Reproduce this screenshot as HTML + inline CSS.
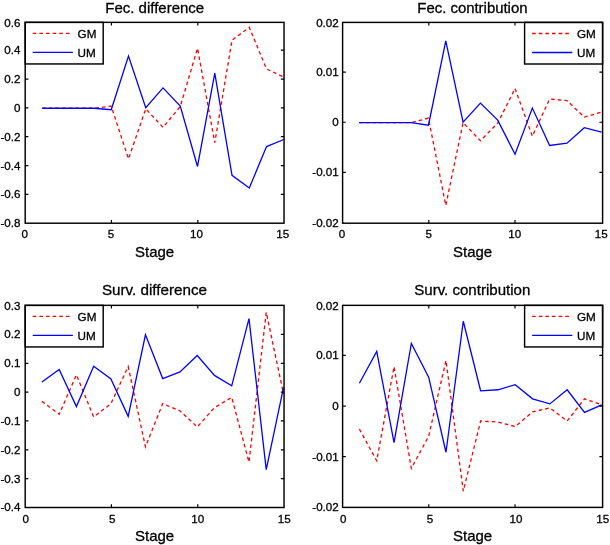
<!DOCTYPE html>
<html><head><meta charset="utf-8"><style>
html,body{margin:0;padding:0;background:#fff;}
svg{display:block;filter:blur(0.35px);}
text{font-family:"Liberation Sans", sans-serif;fill:#000;stroke:#000;stroke-width:0.3px;}
</style></head><body>
<svg width="610" height="545" viewBox="0 0 610 545">
<rect width="610" height="545" fill="#fff"/>
<polyline points="42.21,108.26 59.46,108.26 76.72,108.26 93.98,108.26 111.23,106.11 128.49,158.89 145.75,108.83 163.00,127.33 180.26,106.54 197.52,48.30 214.77,142.68 232.03,40.13 249.29,27.36 266.54,68.96 283.80,76.99" fill="none" stroke="#ff0000" stroke-width="1.3" stroke-dasharray="3.6 3.04"/>
<polyline points="42.21,108.26 59.46,108.26 76.72,108.26 93.98,108.26 111.23,109.69 128.49,56.05 145.75,107.68 163.00,87.89 180.26,105.96 197.52,166.49 214.77,73.12 232.03,175.38 249.29,188.00 266.54,146.55 283.80,139.52" fill="none" stroke="#0000ff" stroke-width="1.3"/>
<path d="M111.42 223.20V220.00M111.42 22.35V25.55M197.80 223.20V220.00M197.80 22.35V25.55M25.20 50.20H28.40M284.05 50.20H280.85M25.20 79.04H28.40M284.05 79.04H280.85M25.20 107.88H28.40M284.05 107.88H280.85M25.20 136.72H28.40M284.05 136.72H280.85M25.20 165.56H28.40M284.05 165.56H280.85M25.20 194.40H28.40M284.05 194.40H280.85" stroke="#000" stroke-width="1.2" fill="none"/>
<rect x="25.20" y="22.35" width="78.00" height="41.60" fill="#fff" stroke="#000" stroke-width="1.45"/>
<line x1="32.70" y1="33.45" x2="72.20" y2="33.45" stroke="#ff0000" stroke-width="1.3" stroke-dasharray="3.6 3.04"/>
<line x1="32.70" y1="52.45" x2="72.90" y2="52.45" stroke="#0000ff" stroke-width="1.3"/>
<text x="77.60" y="37.65" font-size="11.7">GM</text>
<text x="77.60" y="56.85" font-size="11.7">UM</text>
<rect x="25.20" y="22.35" width="258.85" height="200.85" fill="none" stroke="#000" stroke-width="1.45"/>
<text x="20.40" y="26.75" font-size="11.6" text-anchor="end">0.6</text>
<text x="20.40" y="54.20" font-size="11.6" text-anchor="end">0.4</text>
<text x="20.40" y="83.04" font-size="11.6" text-anchor="end">0.2</text>
<text x="20.40" y="111.88" font-size="11.6" text-anchor="end">0</text>
<text x="20.40" y="140.72" font-size="11.6" text-anchor="end">-0.2</text>
<text x="20.40" y="169.56" font-size="11.6" text-anchor="end">-0.4</text>
<text x="20.40" y="198.40" font-size="11.6" text-anchor="end">-0.6</text>
<text x="20.40" y="227.24" font-size="11.6" text-anchor="end">-0.8</text>
<text x="24.70" y="237.80" font-size="11.6" text-anchor="middle">0</text>
<text x="110.97" y="237.80" font-size="11.6" text-anchor="middle">5</text>
<text x="196.57" y="237.80" font-size="11.6" text-anchor="middle">10</text>
<text x="282.73" y="237.80" font-size="11.6" text-anchor="middle">15</text>
<text x="154.75" y="12.60" font-size="15.0" text-anchor="middle">Fec. difference</text>
<text x="154.62" y="257.00" font-size="15.0" text-anchor="middle">Stage</text>
<polyline points="359.21,122.65 376.53,122.65 393.84,122.65 411.15,122.65 428.47,118.13 445.78,205.44 463.09,122.65 480.41,140.71 497.72,123.15 515.03,88.53 532.35,136.20 549.66,99.07 566.97,100.57 584.29,117.13 601.60,112.11" fill="none" stroke="#ff0000" stroke-width="1.3" stroke-dasharray="3.6 3.04"/>
<polyline points="359.21,122.65 376.53,122.65 393.84,122.65 411.15,122.65 428.47,125.16 445.78,40.86 463.09,122.15 480.41,103.08 497.72,120.14 515.03,154.26 532.35,108.10 549.66,145.48 566.97,143.22 584.29,127.67 601.60,132.18" fill="none" stroke="#0000ff" stroke-width="1.3"/>
<path d="M428.80 223.20V220.00M428.80 22.40V25.60M515.00 223.20V220.00M515.00 22.40V25.60M342.60 72.10H345.80M602.60 72.10H599.40M342.60 122.24H345.80M602.60 122.24H599.40M342.60 172.38H345.80M602.60 172.38H599.40" stroke="#000" stroke-width="1.2" fill="none"/>
<rect x="524.60" y="22.40" width="78.00" height="41.60" fill="#fff" stroke="#000" stroke-width="1.45"/>
<line x1="532.10" y1="33.50" x2="571.60" y2="33.50" stroke="#ff0000" stroke-width="1.3" stroke-dasharray="3.6 3.04"/>
<line x1="532.10" y1="52.50" x2="572.30" y2="52.50" stroke="#0000ff" stroke-width="1.3"/>
<text x="577.00" y="37.70" font-size="11.7">GM</text>
<text x="577.00" y="56.90" font-size="11.7">UM</text>
<rect x="342.60" y="22.40" width="260.00" height="200.80" fill="none" stroke="#000" stroke-width="1.45"/>
<text x="338.75" y="26.80" font-size="11.6" text-anchor="end">0.02</text>
<text x="338.75" y="76.10" font-size="11.6" text-anchor="end">0.01</text>
<text x="338.75" y="126.24" font-size="11.6" text-anchor="end">0</text>
<text x="338.75" y="176.38" font-size="11.6" text-anchor="end">-0.01</text>
<text x="338.75" y="226.52" font-size="11.6" text-anchor="end">-0.02</text>
<text x="342.10" y="237.80" font-size="11.6" text-anchor="middle">0</text>
<text x="428.76" y="237.80" font-size="11.6" text-anchor="middle">5</text>
<text x="514.73" y="237.80" font-size="11.6" text-anchor="middle">10</text>
<text x="601.28" y="237.80" font-size="11.6" text-anchor="middle">15</text>
<text x="472.40" y="12.70" font-size="14.92" text-anchor="middle">Fec. contribution</text>
<text x="472.60" y="257.00" font-size="15.0" text-anchor="middle">Stage</text>
<polyline points="41.91,401.36 59.16,414.33 76.42,374.85 93.68,416.92 110.93,403.67 128.19,366.50 145.45,446.89 162.70,403.67 179.96,410.87 197.22,427.01 214.47,407.70 231.73,397.33 248.99,462.16 266.24,312.33 283.50,393.87" fill="none" stroke="#ff0000" stroke-width="1.3" stroke-dasharray="3.6 3.04"/>
<polyline points="41.91,382.06 59.16,369.38 76.42,406.55 93.68,366.21 110.93,378.89 128.19,416.35 145.45,334.80 162.70,378.60 179.96,371.97 197.22,355.55 214.47,375.43 231.73,385.80 248.99,318.67 266.24,469.65 283.50,387.53" fill="none" stroke="#0000ff" stroke-width="1.3"/>
<path d="M111.42 507.50V504.30M111.42 305.35V308.55M197.80 507.50V504.30M197.80 305.35V308.55M25.20 334.44H28.40M284.05 334.44H280.85M25.20 363.28H28.40M284.05 363.28H280.85M25.20 392.12H28.40M284.05 392.12H280.85M25.20 420.96H28.40M284.05 420.96H280.85M25.20 449.80H28.40M284.05 449.80H280.85M25.20 478.64H28.40M284.05 478.64H280.85" stroke="#000" stroke-width="1.2" fill="none"/>
<rect x="25.20" y="305.35" width="78.00" height="41.60" fill="#fff" stroke="#000" stroke-width="1.45"/>
<line x1="32.70" y1="316.45" x2="72.20" y2="316.45" stroke="#ff0000" stroke-width="1.3" stroke-dasharray="3.6 3.04"/>
<line x1="32.70" y1="335.45" x2="72.90" y2="335.45" stroke="#0000ff" stroke-width="1.3"/>
<text x="77.60" y="320.65" font-size="11.7">GM</text>
<text x="77.60" y="339.85" font-size="11.7">UM</text>
<rect x="25.20" y="305.35" width="258.85" height="202.15" fill="none" stroke="#000" stroke-width="1.45"/>
<text x="20.40" y="309.75" font-size="11.6" text-anchor="end">0.3</text>
<text x="20.40" y="338.44" font-size="11.6" text-anchor="end">0.2</text>
<text x="20.40" y="367.28" font-size="11.6" text-anchor="end">0.1</text>
<text x="20.40" y="396.12" font-size="11.6" text-anchor="end">0</text>
<text x="20.40" y="424.96" font-size="11.6" text-anchor="end">-0.1</text>
<text x="20.40" y="453.80" font-size="11.6" text-anchor="end">-0.2</text>
<text x="20.40" y="482.64" font-size="11.6" text-anchor="end">-0.3</text>
<text x="20.40" y="511.48" font-size="11.6" text-anchor="end">-0.4</text>
<text x="25.85" y="523.10" font-size="11.6" text-anchor="middle">0</text>
<text x="112.17" y="523.10" font-size="11.6" text-anchor="middle">5</text>
<text x="197.82" y="523.10" font-size="11.6" text-anchor="middle">10</text>
<text x="284.18" y="523.10" font-size="11.6" text-anchor="middle">15</text>
<text x="154.50" y="294.70" font-size="15.23" text-anchor="middle">Surv. difference</text>
<text x="154.62" y="541.30" font-size="15.0" text-anchor="middle">Stage</text>
<polyline points="359.41,429.08 376.73,460.83 394.04,366.58 411.35,468.39 428.67,436.14 445.98,360.54 463.29,491.07 480.61,421.02 497.92,422.02 515.23,426.56 532.55,411.94 549.86,407.91 567.17,421.02 584.49,398.84 601.80,404.89" fill="none" stroke="#ff0000" stroke-width="1.3" stroke-dasharray="3.6 3.04"/>
<polyline points="359.41,383.22 376.73,351.46 394.04,442.69 411.35,343.40 428.67,377.17 445.98,452.26 463.29,321.22 480.61,390.78 497.92,389.77 515.23,384.73 532.55,398.84 549.86,403.88 567.17,389.77 584.49,412.45 601.80,404.89" fill="none" stroke="#0000ff" stroke-width="1.3"/>
<path d="M428.80 507.40V504.20M428.80 305.35V308.55M515.00 507.40V504.20M515.00 305.35V308.55M342.60 355.47H345.80M602.60 355.47H599.40M342.60 406.09H345.80M602.60 406.09H599.40M342.60 456.70H345.80M602.60 456.70H599.40" stroke="#000" stroke-width="1.2" fill="none"/>
<rect x="524.60" y="305.35" width="78.00" height="41.60" fill="#fff" stroke="#000" stroke-width="1.45"/>
<line x1="532.10" y1="316.45" x2="571.60" y2="316.45" stroke="#ff0000" stroke-width="1.3" stroke-dasharray="3.6 3.04"/>
<line x1="532.10" y1="335.45" x2="572.30" y2="335.45" stroke="#0000ff" stroke-width="1.3"/>
<text x="577.00" y="320.65" font-size="11.7">GM</text>
<text x="577.00" y="339.85" font-size="11.7">UM</text>
<rect x="342.60" y="305.35" width="260.00" height="202.05" fill="none" stroke="#000" stroke-width="1.45"/>
<text x="338.75" y="309.75" font-size="11.6" text-anchor="end">0.02</text>
<text x="338.75" y="359.47" font-size="11.6" text-anchor="end">0.01</text>
<text x="338.75" y="410.09" font-size="11.6" text-anchor="end">0</text>
<text x="338.75" y="460.70" font-size="11.6" text-anchor="end">-0.01</text>
<text x="338.75" y="511.32" font-size="11.6" text-anchor="end">-0.02</text>
<text x="343.25" y="523.00" font-size="11.6" text-anchor="middle">0</text>
<text x="429.96" y="523.00" font-size="11.6" text-anchor="middle">5</text>
<text x="515.98" y="523.00" font-size="11.6" text-anchor="middle">10</text>
<text x="602.73" y="523.00" font-size="11.6" text-anchor="middle">15</text>
<text x="472.30" y="294.80" font-size="15.07" text-anchor="middle">Surv. contribution</text>
<text x="472.60" y="541.20" font-size="15.0" text-anchor="middle">Stage</text>
</svg>
</body></html>
